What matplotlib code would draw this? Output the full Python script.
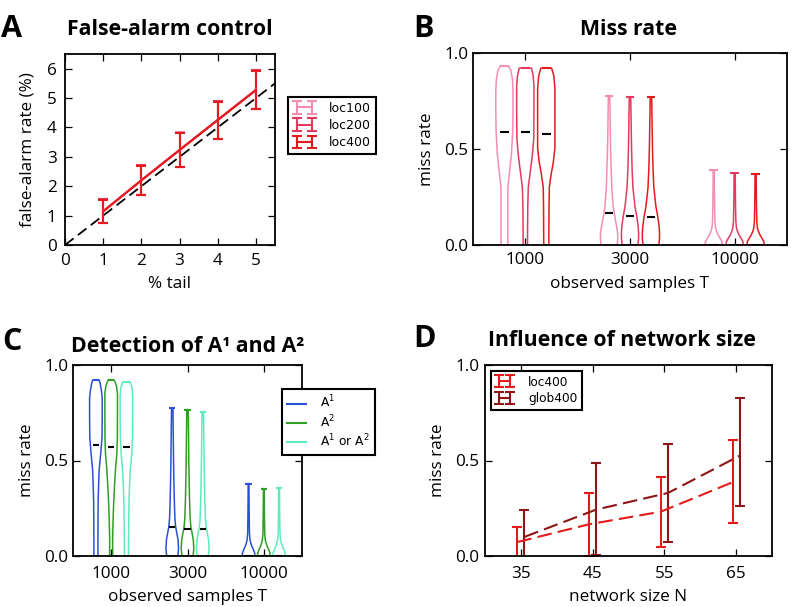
import numpy as np
import matplotlib
matplotlib.use("Agg")
import matplotlib.pyplot as plt
from matplotlib.lines import Line2D

# ---------------- data ----------------
# Panel A: false-alarm control
A_tail = [1, 2, 3, 4, 5]
A_series = ["loc100", "loc200", "loc400"]
A_mean = {
    "loc100": [1.15, 2.21, 3.24, 4.26, 5.28],
    "loc200": [1.15, 2.20, 3.23, 4.26, 5.28],
    "loc400": [1.14, 2.20, 3.23, 4.25, 5.27],
}
A_err = {
    "loc100": [0.40, 0.51, 0.59, 0.64, 0.66],
    "loc200": [0.40, 0.51, 0.59, 0.64, 0.66],
    "loc400": [0.39, 0.50, 0.58, 0.63, 0.65],
}

# Panels B and C: miss-rate violins for T = 1000, 3000, 10000
T_labels = ["1000", "3000", "10000"]

B_series = ["loc100", "loc200", "loc400"]
B_max = {"loc100": [0.932, 0.778, 0.390],
         "loc200": [0.921, 0.769, 0.374],
         "loc400": [0.921, 0.769, 0.369]}
B_median = {"loc100": [0.591, 0.166, 0.0],
            "loc200": [0.586, 0.149, 0.0],
            "loc400": [0.577, 0.145, 0.0]}
# density profiles (levels, relative density) per group
B_coords = {
    "loc100": [[0, 0.1, 0.2, 0.3, 0.38, 0.47, 0.55, 0.6, 0.7, 0.8, 0.86, 0.91, 0.932],
               [0, 0.03, 0.06, 0.1, 0.15, 0.2, 0.3, 0.4, 0.5, 0.6, 0.7, 0.778],
               [0, 0.017, 0.035, 0.052, 0.07, 0.087, 0.12, 0.2, 0.3, 0.39]],
    "loc200": [[0, 0.1, 0.2, 0.3, 0.38, 0.47, 0.555, 0.7, 0.83, 0.88, 0.921],
               [0, 0.03, 0.06, 0.1, 0.15, 0.2, 0.3, 0.4, 0.5, 0.6, 0.7, 0.769],
               [0, 0.017, 0.035, 0.052, 0.07, 0.087, 0.12, 0.2, 0.3, 0.374]],
    "loc400": [[0, 0.1, 0.2, 0.3, 0.365, 0.434, 0.503, 0.7, 0.816, 0.88, 0.921],
               [0, 0.03, 0.06, 0.1, 0.15, 0.2, 0.3, 0.4, 0.5, 0.6, 0.7, 0.769],
               [0, 0.017, 0.035, 0.052, 0.07, 0.087, 0.12, 0.2, 0.3, 0.369]],
}
B_density = {
    "loc100": [[3.1, 3.2, 3.2, 3.2, 4.7, 6.5, 7.3, 7.7, 8.0, 8.0, 7.5, 6.0, 3.8],
               [6.8, 7.3, 7.3, 6.3, 4.8, 3.5, 2.3, 1.8, 1.3, 1.0, 0.8, 0.6],
               [7.8, 7.5, 5.8, 4.0, 2.6, 1.7, 1.1, 0.8, 0.6, 0.5]],
    "loc200": [[2.2, 2.3, 2.5, 3.0, 5.0, 7.2, 8.6, 8.8, 8.8, 8.0, 6.3],
               [7.5, 8.2, 8.3, 7.8, 6.5, 4.8, 2.8, 2.0, 1.5, 1.2, 0.9, 0.7],
               [7.8, 7.5, 5.8, 4.0, 2.6, 1.7, 1.1, 0.8, 0.6, 0.5]],
    "loc400": [[2.5, 2.6, 2.7, 3.0, 4.7, 7.0, 8.5, 8.5, 8.5, 7.5, 5.3],
               [7.5, 8.2, 8.3, 7.8, 6.5, 4.8, 2.8, 2.0, 1.5, 1.2, 0.9, 0.7],
               [7.8, 7.5, 5.8, 4.0, 2.6, 1.7, 1.1, 0.8, 0.6, 0.5]],
}

C_series = ["A1", "A2", "A1orA2"]
C_labels = ["A$^1$", "A$^2$", "A$^1$ or A$^2$"]
C_max = {"A1": [0.921, 0.776, 0.379],
         "A2": [0.920, 0.767, 0.353],
         "A1orA2": [0.910, 0.755, 0.357]}
C_median = {"A1": [0.579, 0.152, 0.0],
            "A2": [0.572, 0.140, 0.0],
            "A1orA2": [0.572, 0.143, 0.0]}
C_coords = {
    "A1": [[0, 0.1, 0.2, 0.28, 0.36, 0.45, 0.54, 0.62, 0.72, 0.83, 0.87, 0.9, 0.921],
           [0, 0.04, 0.085, 0.12, 0.155, 0.2, 0.3, 0.4, 0.5, 0.64, 0.776],
           [0, 0.017, 0.035, 0.052, 0.07, 0.087, 0.12, 0.2, 0.3, 0.379]],
    "A2": [[0, 0.1, 0.2, 0.276, 0.363, 0.45, 0.538, 0.62, 0.75, 0.85, 0.89, 0.92],
           [0, 0.04, 0.085, 0.12, 0.155, 0.2, 0.3, 0.4, 0.5, 0.64, 0.767],
           [0, 0.017, 0.035, 0.052, 0.07, 0.087, 0.12, 0.2, 0.3, 0.353]],
    "A1orA2": [[0, 0.1, 0.2, 0.276, 0.36, 0.45, 0.54, 0.62, 0.75, 0.84, 0.88, 0.91],
               [0, 0.04, 0.085, 0.12, 0.155, 0.2, 0.3, 0.4, 0.5, 0.64, 0.755],
               [0, 0.017, 0.035, 0.052, 0.07, 0.087, 0.12, 0.2, 0.3, 0.357]],
}
C_density = {
    "A1": [[2.0, 2.0, 2.1, 2.2, 2.6, 3.2, 4.8, 6.0, 6.2, 6.2, 5.3, 4.3, 3.3],
           [5.5, 6.2, 5.7, 4.5, 3.3, 2.6, 2.0, 1.6, 1.3, 1.0, 0.7],
           [7.8, 7.5, 5.8, 4.0, 2.6, 1.7, 1.1, 0.8, 0.6, 0.5]],
    "A2": [[1.5, 1.5, 2.0, 2.5, 3.3, 4.3, 5.7, 6.2, 6.3, 6.3, 5.3, 3.3],
           [5.5, 6.2, 5.7, 4.5, 3.3, 2.6, 2.0, 1.6, 1.3, 1.0, 0.7],
           [7.8, 7.5, 5.8, 4.0, 2.6, 1.7, 1.1, 0.8, 0.6, 0.5]],
    "A1orA2": [[2.0, 2.1, 2.3, 2.5, 3.0, 3.8, 5.3, 6.0, 6.2, 6.2, 5.5, 3.8],
               [5.5, 6.2, 5.7, 4.5, 3.3, 2.6, 2.0, 1.6, 1.3, 1.0, 0.7],
               [7.8, 7.5, 5.8, 4.0, 2.6, 1.7, 1.1, 0.8, 0.6, 0.5]],
}

# Panel D: influence of network size
D_N = [35, 45, 55, 65]
D_loc_mean = [0.073, 0.166, 0.232, 0.386]
D_loc_lo = [-0.01, 0.002, 0.047, 0.173]
D_loc_hi = [0.153, 0.330, 0.414, 0.607]
D_glob_mean = [0.100, 0.243, 0.330, 0.525]
D_glob_lo = [-0.05, 0.007, 0.073, 0.262]
D_glob_hi = [0.243, 0.488, 0.586, 0.825]

# ---------------- style ----------------
col = {"loc100": "#F48DB4", "loc200": "#E5395F", "loc400": "#E41A1C",
       "glob400": "#8E1515",
       "A1": "#2D4FD6", "A2": "#2E9E24", "A1orA2": "#5CEDB8"}

plt.rcParams.update({
    "font.family": ["Open Sans", "DejaVu Sans"],
    "font.size": 12,
    "xtick.labelsize": 12.3, "ytick.labelsize": 12.3,
    "axes.labelsize": 12.3,
    "xtick.direction": "in", "ytick.direction": "in",
    "xtick.top": True, "ytick.right": True,
    "xtick.major.size": 5, "ytick.major.size": 5,
    "xtick.major.width": 0.9, "ytick.major.width": 0.9,
    "xtick.major.pad": 5, "ytick.major.pad": 3.2,
    "axes.linewidth": 1.3,
    "legend.fancybox": False, "legend.framealpha": 1,
    "legend.edgecolor": "black",
    "mathtext.fontset": "dejavusans",
})

W, H = 796, 607
fig = plt.figure(figsize=(W / 100, H / 100), dpi=100)


def rect(l, r, t, b):
    return [l / W, (H - b) / H, (r - l) / W, (b - t) / H]


axA = fig.add_axes(rect(65, 275, 54, 245))
axB = fig.add_axes(rect(473, 787, 53, 245))
axC = fig.add_axes(rect(73, 302, 365, 556))
axD = fig.add_axes(rect(485, 772, 365, 556))

title_kw = dict(fontsize=15.3, fontweight="bold", ha="center", va="baseline",
                family="Open Sans")
letter_kw = dict(fontsize=22, fontweight="bold", ha="left", va="baseline",
                 family="Open Sans")
fig.text(170 / W, 1 - 35 / H, "False-alarm control", **title_kw)
fig.text(629 / W, 1 - 35 / H, "Miss rate", **title_kw)
fig.text(188 / W, 1 - 352 / H, "Detection of A\u00b9 and A\u00b2", **title_kw)
fig.text(622 / W, 1 - 346 / H, "Influence of network size", **title_kw)
fig.text(1 / W, 1 - 37 / H, "A", **letter_kw)
fig.text(413 / W, 1 - 37 / H, "B", **letter_kw)
fig.text(2 / W, 1 - 350 / H, "C", **letter_kw)
fig.text(413 / W, 1 - 347 / H, "D", **letter_kw)

# ---- Panel A ----
axA.set_xlim(0, 5.5)
axA.set_ylim(0, 6.5)
diag = np.array(axA.get_xlim())
axA.plot(diag, diag, color="black", lw=1.3, dashes=(6, 3))
for s in A_series:
    axA.errorbar(A_tail, A_mean[s], yerr=A_err[s], color=col[s],
                 lw=1.5, elinewidth=1.5, capsize=3.6, capthick=1.5,
                 label=s)
axA.set_xticks(range(0, 6))
axA.set_yticks(range(0, 7))
axA.tick_params(axis="y", pad=6)
axA.tick_params(axis="x", pad=6)
axA.set_xlabel("% tail", labelpad=5)
axA.set_ylabel("false-alarm rate (%)", labelpad=8)
legA = axA.legend(loc="upper left", bbox_to_anchor=(1.062, 0.775),
                  borderaxespad=0, numpoints=2,
                  prop={"family": "DejaVu Sans", "size": 9},
                  handlelength=1.8, handletextpad=1.1, labelspacing=0.35,
                  borderpad=0.38)
legA.get_frame().set_linewidth(1.5)


# ---- violins ----
def draw_violins(ax, series, maxes, medians, coords, dens, xpad, lpad):
    offsets = [-0.2, 0.0, 0.2]
    for k, s in enumerate(series):
        stats = []
        pos = []
        for g in range(len(T_labels)):
            stats.append({"coords": np.array(coords[s][g]),
                          "vals": np.array(dens[s][g]),
                          "mean": medians[s][g], "median": medians[s][g],
                          "min": 0.0, "max": maxes[s][g]})
            pos.append(g + 1 + offsets[k])
        parts = ax.violin(stats, positions=pos, widths=0.165,
                          showextrema=True, showmedians=True)
        for b in parts["bodies"]:
            b.set_facecolor("none")
            b.set_edgecolor(col[s])
            b.set_alpha(1)
            b.set_linewidth(1.1)
        parts["cmaxes"].set_color(col[s])
        parts["cmaxes"].set_linewidth(1.5)
        parts["cmins"].set_visible(False)
        parts["cbars"].set_visible(False)
        parts["cmedians"].set_color("black")
        parts["cmedians"].set_linewidth(1.5)
    ax.set_xlim(0.5, 3.5)
    ax.set_ylim(0, 1)
    ax.set_xticks([1, 2, 3])
    ax.set_xticklabels(T_labels)
    ax.set_yticks([0, 0.5, 1.0])
    ax.set_yticklabels(["0.0", "0.5", "1.0"])
    ax.tick_params(axis="x", pad=xpad)
    ax.set_xlabel("observed samples T", labelpad=lpad)
    ax.set_ylabel("miss rate", labelpad=7)


draw_violins(axB, B_series, B_max, B_median, B_coords, B_density, 5, 6)
draw_violins(axC, C_series, C_max, C_median, C_coords, C_density, 7, 5)

handlesC = [Line2D([], [], color=col[s], lw=1.5) for s in C_series]
legC = axC.legend(handlesC, C_labels, loc="upper left",
                  bbox_to_anchor=(0.913, 0.874), borderaxespad=0,
                  prop={"family": "DejaVu Sans", "size": 8.8},
                  handlelength=1.5, handletextpad=1.2, labelspacing=0.22,
                  borderpad=0.42)
legC.get_frame().set_linewidth(1.5)

# ---- Panel D ----
xN = np.array(D_N, dtype=float)
for name, xs, m, lo, hi in [("loc400", xN - 0.5, D_loc_mean, D_loc_lo, D_loc_hi),
                            ("glob400", xN + 0.5, D_glob_mean, D_glob_lo, D_glob_hi)]:
    m = np.array(m)
    yerr = [m - np.array(lo), np.array(hi) - m]
    axD.errorbar(xs, m, yerr=yerr, color=col[name], lw=1.5, dashes=(7, 3),
                 elinewidth=1.5, capsize=3.6, capthick=1.5, label=name)
axD.set_xlim(30, 70)
axD.set_ylim(0, 1)
axD.set_xticks(D_N)
axD.set_yticks([0, 0.5, 1.0])
axD.set_yticklabels(["0.0", "0.5", "1.0"])
axD.tick_params(axis="x", pad=7)
axD.tick_params(axis="y", pad=4)
axD.set_xlabel("network size N", labelpad=5)
axD.set_ylabel("miss rate", labelpad=7)
legD = axD.legend(loc="upper left", bbox_to_anchor=(0.021, 0.969),
                  borderaxespad=0, numpoints=2,
                  prop={"family": "DejaVu Sans", "size": 8.7},
                  handlelength=1.5, handletextpad=1.2, labelspacing=0.3,
                  borderpad=0.38)
legD.get_frame().set_linewidth(1.5)

fig.savefig("out.png", dpi=100, facecolor="white")
